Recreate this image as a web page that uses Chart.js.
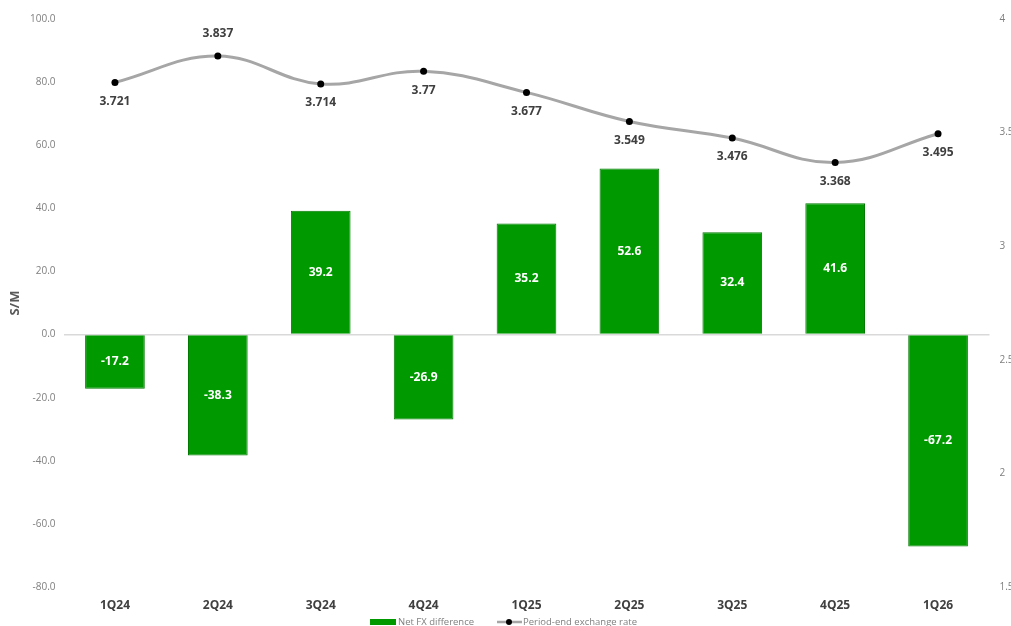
<!DOCTYPE html>
<html>
<head>
<meta charset="utf-8">
<script src="https://cdn.jsdelivr.net/npm/chart.js@4.4.1/dist/chart.umd.min.js"></script>
<style>
    html, body { margin: 0; padding: 0; background: #fff; overflow: hidden; }
    #wrap { position: relative; width: 1020px; height: 626px; }
</style>
</head>
<body>
<div id="wrap"><canvas id="fx-chart"></canvas></div>
<script>
const quarters = ['1Q24', '2Q24', '3Q24', '4Q24', '1Q25', '2Q25', '3Q25', '4Q25', '1Q26'];
const netFxDifference = [-17.2, -38.3, 39.2, -26.9, 35.2, 52.6, 32.4, 41.6, -67.2];
const periodEndRate = [3.721, 3.837, 3.714, 3.77, 3.677, 3.549, 3.476, 3.368, 3.495];
// label above (-1) or below (+1) each rate point
const rateLabelSide = [1, -1, 1, 1, 1, 1, 1, 1, 1];
const legendNames = ['Net FX difference', 'Period-end exchange rate'];

const labelFont = 'Open Sans, Liberation Sans, sans-serif';
const barGreen = '#009900';
const lineGray = '#a6a6a6';

// Value labels on bars and rate points
const valueLabels = {
    id: 'valueLabels',
    afterDatasetsDraw(chart) {
        const ctx = chart.ctx;
        ctx.save();
        ctx.textAlign = 'center';
        ctx.textBaseline = 'middle';
        ctx.font = 'bold 12px ' + labelFont;

        chart.getDatasetMeta(0).data.forEach((bar, i) => {
            ctx.fillStyle = '#ffffff';
            ctx.fillText(netFxDifference[i].toFixed(1), bar.x, (bar.y + bar.base) / 2);
        });

        chart.getDatasetMeta(1).data.forEach((pt, i) => {
            ctx.fillStyle = '#404040';
            const offset = rateLabelSide[i] > 0 ? 19 : -22;
            ctx.fillText(String(periodEndRate[i]), pt.x, pt.y + offset);
        });
        ctx.restore();
    }
};

// Small legend under the category labels
const bottomLegend = {
    id: 'bottomLegend',
    afterDraw(chart) {
        const ctx = chart.ctx;
        const y = 622;
        ctx.save();
        ctx.font = '9.5px ' + labelFont;
        ctx.textBaseline = 'middle';
        ctx.textAlign = 'left';

        let x = 370;
        ctx.fillStyle = barGreen;
        ctx.fillRect(x, y - 3, 26, 6);
        ctx.fillStyle = '#7f7f7f';
        ctx.fillText(legendNames[0], x + 28, y);

        x = 497;
        ctx.strokeStyle = lineGray;
        ctx.lineWidth = 2.5;
        ctx.beginPath(); ctx.moveTo(x, y); ctx.lineTo(x + 25, y); ctx.stroke();
        ctx.fillStyle = '#000';
        ctx.beginPath(); ctx.arc(x + 12, y, 3, 0, Math.PI * 2); ctx.fill();
        ctx.fillStyle = '#7f7f7f';
        ctx.fillText(legendNames[1], x + 26, y);
        ctx.restore();
    }
};

new Chart(document.getElementById('fx-chart'), {
    data: {
        labels: quarters,
        datasets: [
            {
                type: 'bar',
                label: legendNames[0],
                data: netFxDifference,
                backgroundColor: barGreen,
                borderColor: '#007a00',
                borderWidth: 1,
                categoryPercentage: 1,
                barPercentage: 0.58,
                yAxisID: 'y',
                order: 2
            },
            {
                type: 'line',
                label: legendNames[1],
                data: periodEndRate,
                borderColor: lineGray,
                borderWidth: 3,
                tension: 0.4,
                pointRadius: 3.5,
                pointBorderWidth: 0,
                pointBackgroundColor: '#000',
                pointBorderColor: '#000',
                yAxisID: 'y2',
                order: 1
            }
        ]
    },
    options: {
        responsive: true,
        maintainAspectRatio: false,
        animation: false,
        layout: { padding: { top: 19, left: 0, right: 0, bottom: 14 } },
        plugins: {
            tooltip: { enabled: false },
            legend: { display: false }
        },
        scales: {
            x: {
                grid: { display: false, drawTicks: false },
                border: { display: false },
                ticks: {
                    color: '#404040',
                    font: { size: 12, weight: 'bold', family: labelFont },
                    padding: 11
                },
                afterFit(scale) { scale.height = 25; }
            },
            y: {
                position: 'left',
                min: -80,
                max: 100,
                ticks: {
                    stepSize: 20,
                    color: '#7f7f7f',
                    font: { size: 10, family: labelFont },
                    padding: 8,
                    callback: v => v.toFixed(1)
                },
                grid: {
                    drawTicks: false,
                    color: ctx => ctx.tick && ctx.tick.value === 0 ? '#d9d9d9' : 'rgba(0,0,0,0)',
                    lineWidth: 1.5
                },
                border: { display: false },
                title: {
                    display: true,
                    text: 'S/M',
                    color: '#595959',
                    font: { size: 13, weight: 'bold', family: labelFont },
                    padding: { top: 7, bottom: 0 }
                },
                afterFit(scale) { scale.width = 63.5; }
            },
            y2: {
                position: 'right',
                min: 1.5,
                max: 4,
                ticks: {
                    stepSize: 0.5,
                    color: '#7f7f7f',
                    font: { size: 10, family: labelFont },
                    padding: 10,
                    callback: v => String(v)
                },
                grid: { display: false, drawTicks: false },
                border: { display: false },
                afterFit(scale) { scale.width = 30.5; }
            }
        }
    },
    plugins: [valueLabels, bottomLegend]
});
</script>
</body>
</html>
